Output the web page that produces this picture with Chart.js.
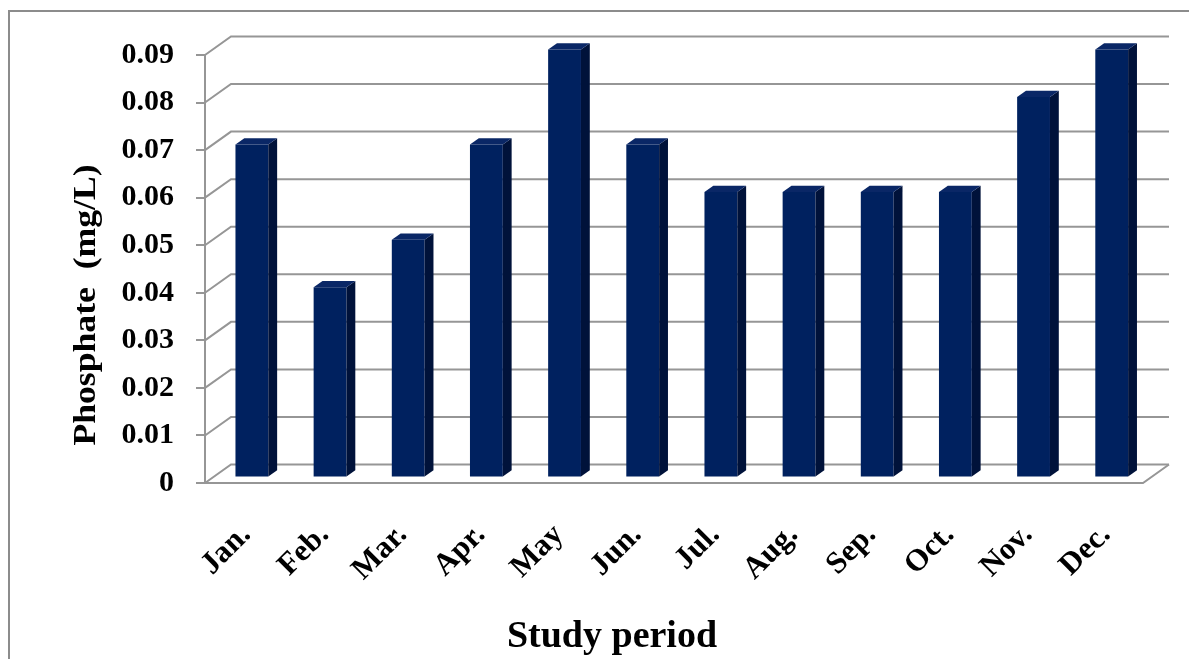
<!DOCTYPE html>
<html>
<head>
<meta charset="utf-8">
<script src="https://cdn.jsdelivr.net/npm/chart.js@4.4.1/dist/chart.umd.min.js"></script>
<style>
  html, body { margin: 0; padding: 0; background: #ffffff; }
  canvas { display: block; }
</style>
</head>
<body>
<canvas id="chart" width="1189" height="659"></canvas>
<script>
// Monthly phosphate concentration over the study period
const months = ['Jan.', 'Feb.', 'Mar.', 'Apr.', 'May', 'Jun.', 'Jul.', 'Aug.', 'Sep.', 'Oct.', 'Nov.', 'Dec.'];
const phosphate = [0.07, 0.04, 0.05, 0.07, 0.09, 0.07, 0.06, 0.06, 0.06, 0.06, 0.08, 0.09];
const yTickLabels = ['0', '0.01', '0.02', '0.03', '0.04', '0.05', '0.06', '0.07', '0.08', '0.09'];

const SERIF = '"Liberation Serif", "Times New Roman", serif';
const GRID = '#969696';
const FRONT = '#00215f';
const SIDE = '#00123a';
const TOP = '#0a2766';

// oblique depth of the plot box (back wall offset from the front plane)
const DEPTH_X = 26;
const DEPTH_Y = -18.5;
// depth slots occupied by the columns (fractions of the full depth)
const BAR_FRONT = 0.3;
const BAR_BACK = 0.64;

const box3d = {
  id: 'box3d',
  beforeDraw(chart) {
    const ctx = chart.ctx;
    ctx.save();
    ctx.strokeStyle = '#8c8c8c';
    ctx.lineWidth = 2;
    ctx.strokeRect(9, 11, chart.width + 20, chart.height + 20);
    ctx.restore();
  },
  beforeDatasetsDraw(chart) {
    const ctx = chart.ctx;
    const y = chart.scales.y;
    const { left, right } = chart.chartArea;
    ctx.save();
    ctx.strokeStyle = GRID;
    ctx.lineWidth = 2;
    ctx.lineJoin = 'miter';
    y.ticks.forEach(t => {
      const fy = y.getPixelForValue(t.value);
      ctx.beginPath();
      ctx.moveTo(left, fy);
      ctx.lineTo(left + DEPTH_X, fy + DEPTH_Y);
      ctx.lineTo(right + DEPTH_X, fy + DEPTH_Y);
      ctx.stroke();
    });
    // floor: front edge and right side edge
    const y0 = y.getPixelForValue(0);
    ctx.beginPath();
    ctx.moveTo(left, y0);
    ctx.lineTo(right, y0);
    ctx.lineTo(right + DEPTH_X, y0 + DEPTH_Y);
    ctx.stroke();
    ctx.restore();
  },
  beforeDatasetDraw(chart) {
    chart.ctx.save();
    chart.ctx.translate(BAR_FRONT * DEPTH_X, BAR_FRONT * DEPTH_Y);
  },
  afterDatasetDraw(chart, args) {
    const ctx = chart.ctx;
    const dx = (BAR_BACK - BAR_FRONT) * DEPTH_X;
    const dy = (BAR_BACK - BAR_FRONT) * DEPTH_Y;
    args.meta.data.forEach(el => {
      const { x, y, base, width } = el.getProps(['x', 'y', 'base', 'width'], true);
      const l = x - width / 2, r = x + width / 2;
      // right side face
      ctx.fillStyle = SIDE;
      ctx.beginPath();
      ctx.moveTo(r, y);
      ctx.lineTo(r + dx, y + dy);
      ctx.lineTo(r + dx, base + dy);
      ctx.lineTo(r, base);
      ctx.closePath();
      ctx.fill();
      // top face
      ctx.fillStyle = TOP;
      ctx.beginPath();
      ctx.moveTo(l, y);
      ctx.lineTo(l + dx, y + dy);
      ctx.lineTo(r + dx, y + dy);
      ctx.lineTo(r, y);
      ctx.closePath();
      ctx.fill();
    });
    ctx.restore();
  },
  afterDraw(chart) {
    const ctx = chart.ctx;
    ctx.save();
    ctx.fillStyle = '#000000';
    ctx.textAlign = 'center';
    ctx.textBaseline = 'alphabetic';
    // x axis title
    ctx.font = 'bold 38px ' + SERIF;
    ctx.fillText('Study period', 612, 647);
    // y axis title
    ctx.translate(95, 305);
    ctx.rotate(-Math.PI / 2);
    ctx.scale(1.15, 1);
    ctx.font = 'bold 31px ' + SERIF;
    ctx.fillText('Phosphate  (mg/L)', 0, 0);
    ctx.restore();
  }
};

new Chart(document.getElementById('chart'), {
  type: 'bar',
  data: {
    labels: months,
    datasets: [{
      data: phosphate,
      backgroundColor: FRONT,
      borderWidth: 0,
      barPercentage: 0.42,
      categoryPercentage: 1,
      clip: false
    }]
  },
  options: {
    responsive: false,
    animation: false,
    events: [],
    layout: { padding: { left: 0, top: 55, right: 46, bottom: 0 } },
    plugins: {
      legend: { display: false },
      tooltip: { enabled: false }
    },
    scales: {
      x: {
        afterFit(scale) { scale.height = 176; },
        grid: { display: false },
        border: { display: false },
        ticks: {
          minRotation: 45,
          maxRotation: 45,
          autoSkip: false,
          padding: 26,
          labelOffset: 2,
          color: '#000000',
          font: { family: SERIF, size: 31, weight: 'bold' }
        }
      },
      y: {
        min: 0,
        max: 0.09,
        afterFit(scale) { scale.width = 205; },
        afterBuildTicks(scale) {
          scale.ticks = yTickLabels.map(s => ({ value: parseFloat(s) }));
        },
        grid: {
          drawOnChartArea: false,
          drawTicks: true,
          tickLength: 9,
          color: GRID,
          lineWidth: 2
        },
        border: { display: true, color: GRID, width: 2 },
        ticks: {
          padding: 22,
          color: '#000000',
          font: { family: SERIF, size: 30, weight: 'bold' },
          callback: (value, index) => yTickLabels[index]
        }
      }
    }
  },
  plugins: [box3d]
});
</script>
</body>
</html>
